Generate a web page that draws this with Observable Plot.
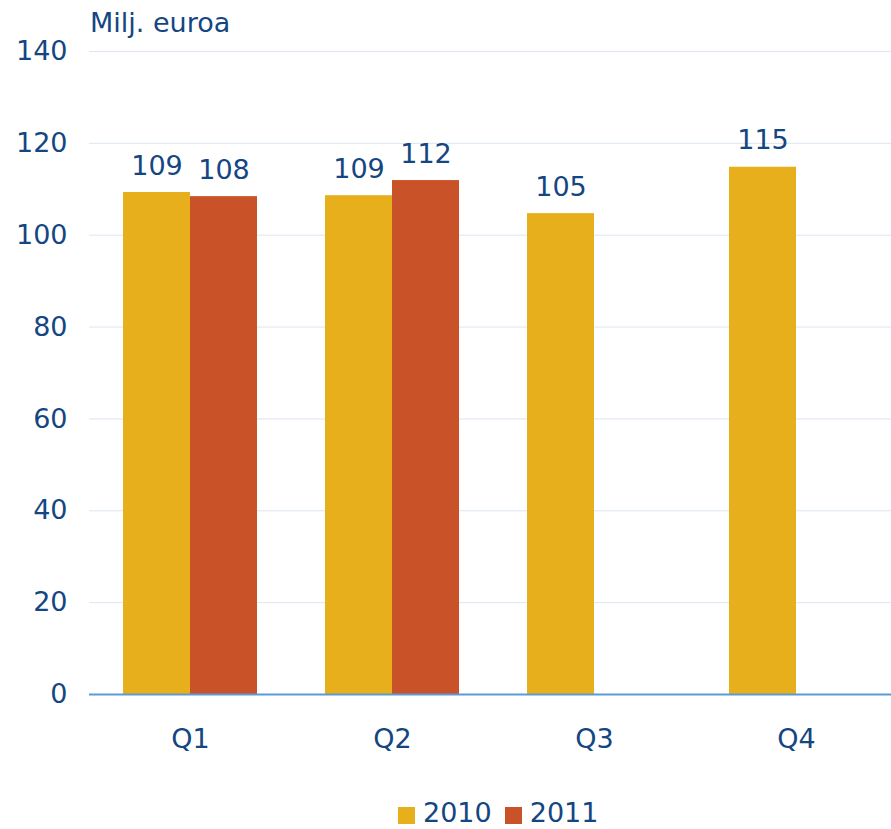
<!DOCTYPE html>
<html>
<head>
<meta charset="utf-8">
<script src="https://cdn.jsdelivr.net/npm/d3@7"></script>
<script src="https://cdn.jsdelivr.net/npm/@observablehq/plot@0.6"></script>
<style>
  html, body { margin: 0; padding: 0; background: #fff; }
  #wrap { position: relative; width: 891px; height: 829px; font-family: "DejaVu Sans", Verdana, sans-serif; color: #144682; }
  #title { position: absolute; left: 90px; top: 6px; font-size: 27px; line-height: 34px; white-space: nowrap; }
  #legend { position: absolute; left: 398px; top: 797px; display: flex; align-items: center; font-size: 27px; line-height: 32px; white-space: nowrap; }
  .item { display: flex; align-items: center; margin-right: 13px; }
  .sw { width: 17px; height: 17px; margin-right: 8px; margin-top: 4px; }
  #chart { position: absolute; left: 0; top: 0; }
</style>
</head>
<body>
<div id="wrap">
  <div id="chart"></div>
  <div id="title">Milj. euroa</div>
  <div id="legend"></div>
</div>
<script>
const quarters = ["Q1", "Q2", "Q3", "Q4"];
const years = ["2010", "2011"];
const values2010 = [109.3, 108.6, 104.7, 114.8];
const values2011 = [108.4, 111.9, null, null];
const yTicks = [0, 20, 40, 60, 80, 100, 120, 140];
const colors = ["#E8AF1C", "#C95228"];
const titleText = "Milj. euroa";

const data = [];
quarters.forEach((q, i) => {
  if (values2010[i] != null) data.push({quarter: q, year: "2010", value: values2010[i]});
  if (values2011[i] != null) data.push({quarter: q, year: "2011", value: values2011[i]});
});

const textColor = "#144682";

const chart = Plot.plot({
  width: 891,
  height: 772,
  marginLeft: 87,
  marginRight: -7,
  marginTop: 51,
  marginBottom: 78,
  style: {fontFamily: "DejaVu Sans, Verdana, sans-serif", fontSize: "27px", color: textColor, background: "transparent"},
  fx: {domain: quarters, padding: 0, axis: "bottom", tickSize: 0, tickPadding: 34, label: null},
  x: {domain: years, padding: 0, paddingOuter: 0.5, axis: null},
  y: {domain: [0, 140], ticks: yTicks, tickSize: 0, tickPadding: 22, label: null},
  color: {domain: years, range: colors},
  marks: [
    Plot.gridY(yTicks.filter(d => d > 0), {stroke: "#dce6f0", strokeOpacity: 1, strokeWidth: 1}),
    Plot.barY(data, {fx: "quarter", x: "year", y: "value", fill: "year"}),
    Plot.ruleY([0], {stroke: "#5b9bd5", strokeWidth: 2}),
    Plot.text(data, {fx: "quarter", x: "year", y: "value", text: d => Math.round(d.value).toString(), lineAnchor: "bottom", dy: -18, fill: textColor, fontSize: 27})
  ]
});
document.getElementById("chart").appendChild(chart);
document.getElementById("title").textContent = titleText;

const legend = document.getElementById("legend");
years.forEach((y, i) => {
  const item = document.createElement("div");
  item.className = "item";
  const sw = document.createElement("div");
  sw.className = "sw";
  sw.style.background = colors[i];
  const lab = document.createElement("span");
  lab.textContent = y;
  item.appendChild(sw);
  item.appendChild(lab);
  legend.appendChild(item);
});
</script>
</body>
</html>
